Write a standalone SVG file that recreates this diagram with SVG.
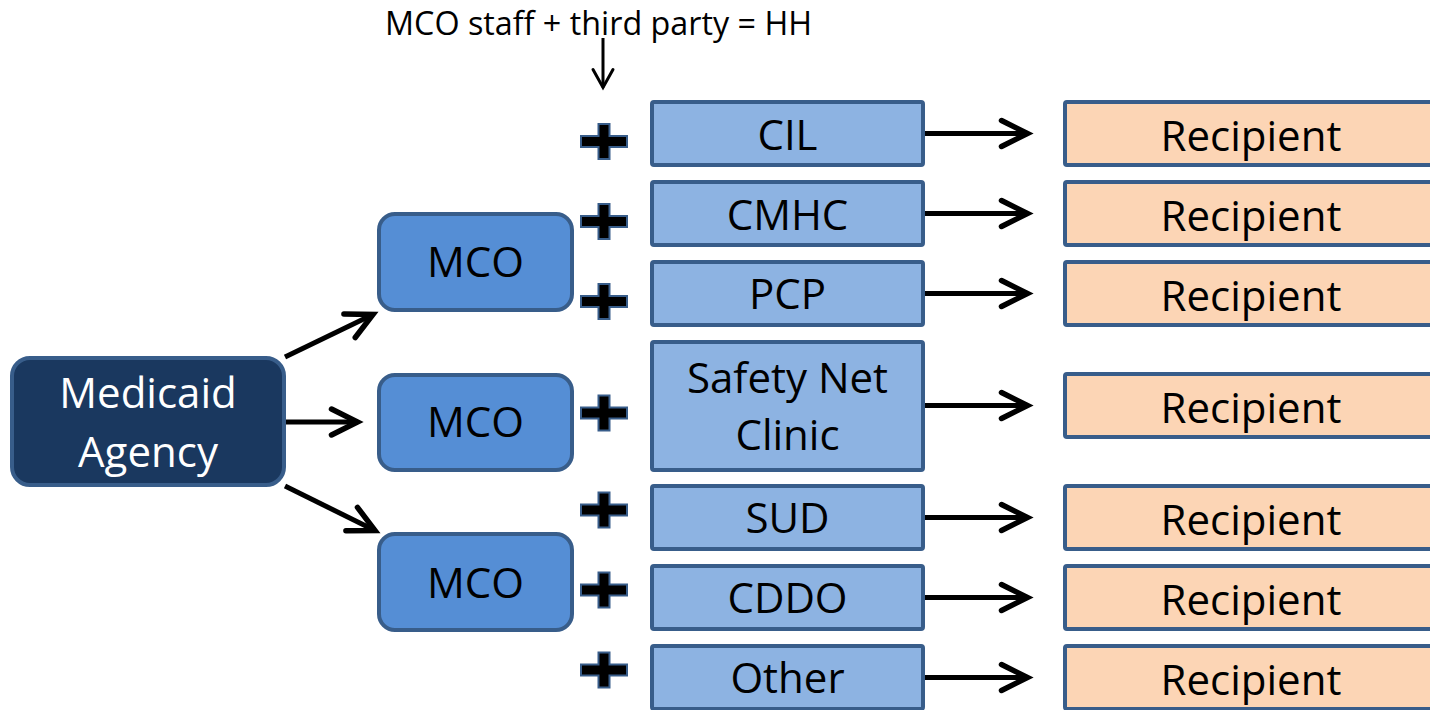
<svg xmlns="http://www.w3.org/2000/svg" width="1430" height="710" viewBox="0 0 1430 710">
  <style>
    .lbl { font-family: "Open Sans", "Liberation Sans", sans-serif; font-size: 42px; fill: #000; text-anchor: middle; }
    .lbl-w { fill: #fff; }
    .note { font-family: "Open Sans", "Liberation Sans", sans-serif; font-size: 32.3px; fill: #000; text-anchor: middle; }
    .agency { fill: #1a385f; stroke: #385d8a; stroke-width: 4; }
    .mco { fill: #558ed5; stroke: #385d8a; stroke-width: 4; }
    .partner { fill: #8db3e2; stroke: #385d8a; stroke-width: 4; }
    .recipient { fill: #fcd5b5; stroke: #385d8a; stroke-width: 4; }
    .plus { fill: #000; stroke: #385d8a; stroke-width: 2; }
    .conn { stroke: #000; stroke-width: 5; fill: none; marker-end: url(#head); }
    .conn-thin { stroke: #000; stroke-width: 3; fill: none; marker-end: url(#head-thin); }
  </style>
  <defs>
    <marker id="head" markerUnits="userSpaceOnUse" viewBox="-34 -20 44 40" refX="0" refY="0" markerWidth="44" markerHeight="40" orient="auto" overflow="visible">
      <path d="M-26,-13 L0,0 L-26,13" fill="none" stroke="#000" stroke-width="5.5" stroke-linecap="round" stroke-linejoin="miter"/>
    </marker>
    <marker id="head-thin" markerUnits="userSpaceOnUse" viewBox="-28 -16 36 32" refX="0" refY="0" markerWidth="36" markerHeight="32" orient="auto" overflow="visible">
      <path d="M-18,-10 L0,0 L-18,10" fill="none" stroke="#000" stroke-width="3" stroke-linecap="round" stroke-linejoin="miter"/>
    </marker>
    <path id="plus-shape" d="M-23,-5.5 H-5.5 V-17.5 H5.5 V-5.5 H23 V5.5 H5.5 V17.5 H-5.5 V5.5 H-23 Z"/>
  </defs>

  <!-- connectors -->
  <g id="connectors">
    <line class="conn-thin" x1="603" y1="38" x2="603" y2="87.5"/>
    <line class="conn" x1="285" y1="357" x2="373" y2="314.5"/>
    <line class="conn" x1="286" y1="422" x2="357.5" y2="422"/>
    <line class="conn" x1="285" y1="486" x2="375" y2="530.5"/>
    <line class="conn" x1="925" y1="133.5" x2="1027.5" y2="133.5"/>
    <line class="conn" x1="925" y1="213.5" x2="1027.5" y2="213.5"/>
    <line class="conn" x1="925" y1="293.5" x2="1027.5" y2="293.5"/>
    <line class="conn" x1="925" y1="405.5" x2="1027.5" y2="405.5"/>
    <line class="conn" x1="925" y1="517.5" x2="1027.5" y2="517.5"/>
    <line class="conn" x1="925" y1="597.5" x2="1027.5" y2="597.5"/>
    <line class="conn" x1="925" y1="677.5" x2="1027.5" y2="677.5"/>
  </g>

  <!-- heading note -->
  <g id="note-hh">
    <text class="note" x="598.5" y="35">MCO staff + third party = HH</text>
  </g>

  <!-- state agency -->
  <g id="medicaid-agency">
    <rect class="agency" x="12" y="358" width="272" height="127" rx="18"/>
    <text class="lbl lbl-w" x="148" y="408">Medicaid</text>
    <text class="lbl lbl-w" x="148" y="467">Agency</text>
  </g>

  <!-- managed care organisations -->
  <g id="mco-1">
    <rect class="mco" x="379" y="214" width="193" height="96" rx="16"/>
    <text class="lbl" x="475.5" y="277">MCO</text>
  </g>
  <g id="mco-2">
    <rect class="mco" x="379" y="375" width="193" height="95" rx="16"/>
    <text class="lbl" x="475.5" y="437">MCO</text>
  </g>
  <g id="mco-3">
    <rect class="mco" x="379" y="534" width="193" height="96" rx="16"/>
    <text class="lbl" x="475.5" y="598">MCO</text>
  </g>

  <!-- plus signs -->
  <g id="plus-signs">
    <use href="#plus-shape" class="plus" x="604" y="141.5"/>
    <use href="#plus-shape" class="plus" x="604" y="221.5"/>
    <use href="#plus-shape" class="plus" x="604" y="301.5"/>
    <use href="#plus-shape" class="plus" x="604" y="413"/>
    <use href="#plus-shape" class="plus" x="604" y="510"/>
    <use href="#plus-shape" class="plus" x="604" y="590"/>
    <use href="#plus-shape" class="plus" x="604" y="670"/>
  </g>

  <!-- partner providers -->
  <g id="partner-cil">
    <rect class="partner" x="652" y="102" width="271" height="63" rx="2"/>
    <text class="lbl" x="787.5" y="150">CIL</text>
  </g>
  <g id="partner-cmhc">
    <rect class="partner" x="652" y="182" width="271" height="63" rx="2"/>
    <text class="lbl" x="787.5" y="230">CMHC</text>
  </g>
  <g id="partner-pcp">
    <rect class="partner" x="652" y="262" width="271" height="63" rx="2"/>
    <text class="lbl" x="787.5" y="309">PCP</text>
  </g>
  <g id="partner-safety-net">
    <rect class="partner" x="652" y="342" width="271" height="128" rx="2"/>
    <text class="lbl" x="787.5" y="393">Safety Net</text>
    <text class="lbl" x="787.5" y="450">Clinic</text>
  </g>
  <g id="partner-sud">
    <rect class="partner" x="652" y="486" width="271" height="63" rx="2"/>
    <text class="lbl" x="787.5" y="533">SUD</text>
  </g>
  <g id="partner-cddo">
    <rect class="partner" x="652" y="566" width="271" height="63" rx="2"/>
    <text class="lbl" x="787.5" y="613">CDDO</text>
  </g>
  <g id="partner-other">
    <rect class="partner" x="652" y="646" width="271" height="63" rx="2"/>
    <text class="lbl" x="787.5" y="693">Other</text>
  </g>

  <!-- recipients -->
  <g id="recipient-1">
    <rect class="recipient" x="1065" y="102" width="400" height="63" rx="2"/>
    <text class="lbl" x="1251" y="151">Recipient</text>
  </g>
  <g id="recipient-2">
    <rect class="recipient" x="1065" y="182" width="400" height="63" rx="2"/>
    <text class="lbl" x="1251" y="231">Recipient</text>
  </g>
  <g id="recipient-3">
    <rect class="recipient" x="1065" y="262" width="400" height="63" rx="2"/>
    <text class="lbl" x="1251" y="311">Recipient</text>
  </g>
  <g id="recipient-4">
    <rect class="recipient" x="1065" y="374" width="400" height="63" rx="2"/>
    <text class="lbl" x="1251" y="423">Recipient</text>
  </g>
  <g id="recipient-5">
    <rect class="recipient" x="1065" y="486" width="400" height="63" rx="2"/>
    <text class="lbl" x="1251" y="535">Recipient</text>
  </g>
  <g id="recipient-6">
    <rect class="recipient" x="1065" y="566" width="400" height="63" rx="2"/>
    <text class="lbl" x="1251" y="615">Recipient</text>
  </g>
  <g id="recipient-7">
    <rect class="recipient" x="1065" y="646" width="400" height="63" rx="2"/>
    <text class="lbl" x="1251" y="695">Recipient</text>
  </g>
</svg>
